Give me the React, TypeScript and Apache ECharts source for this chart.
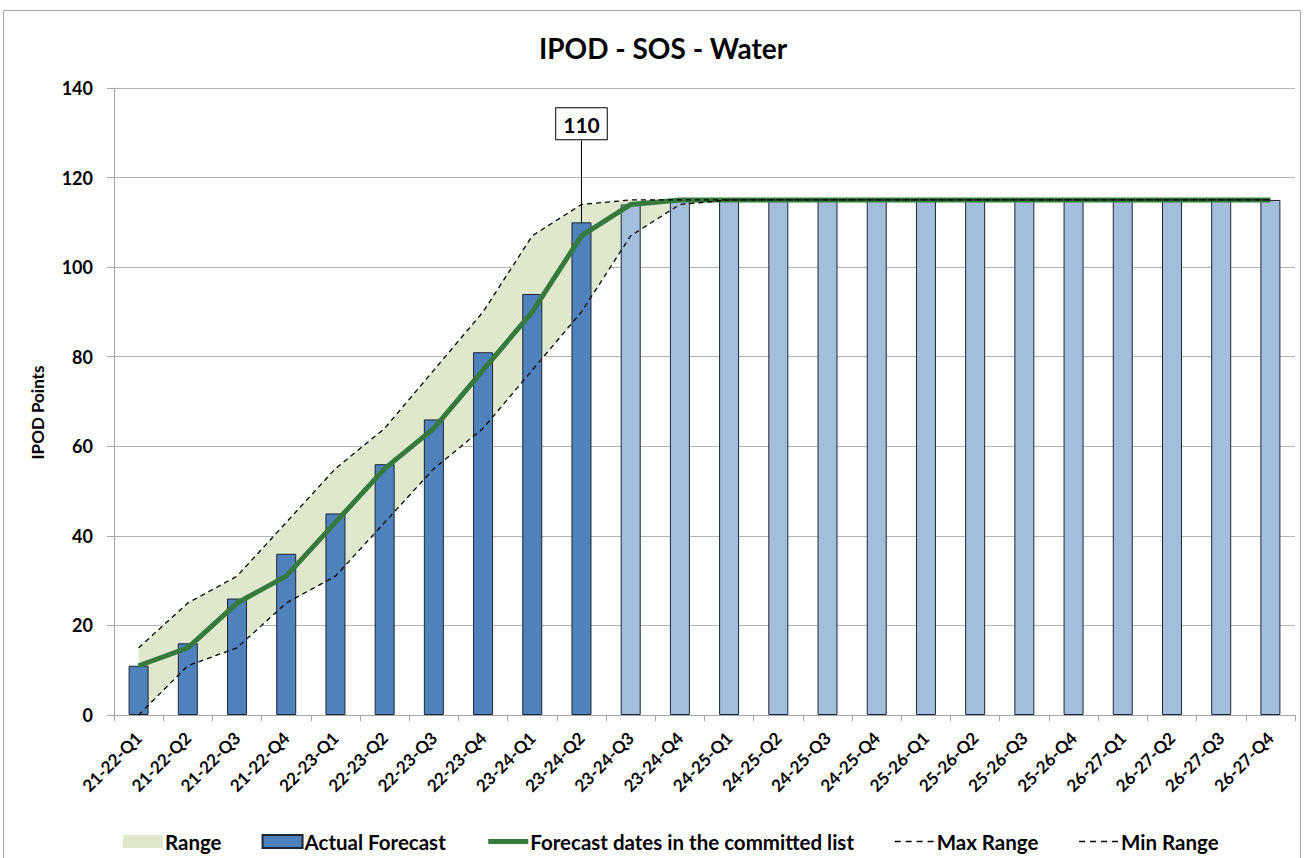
import React, { useEffect, useRef } from "react";
import * as echarts from "echarts";

const categories = [
  "21-22-Q1", "21-22-Q2", "21-22-Q3", "21-22-Q4",
  "22-23-Q1", "22-23-Q2", "22-23-Q3", "22-23-Q4",
  "23-24-Q1", "23-24-Q2", "23-24-Q3", "23-24-Q4",
  "24-25-Q1", "24-25-Q2", "24-25-Q3", "24-25-Q4",
  "25-26-Q1", "25-26-Q2", "25-26-Q3", "25-26-Q4",
  "26-27-Q1", "26-27-Q2", "26-27-Q3", "26-27-Q4",
];

const actualValues = [11, 16, 26, 36, 45, 56, 66, 81, 94, 110];
const plannedValues = [114, 115, 115, 115, 115, 115, 115, 115, 115, 115, 115, 115, 115, 115];
const forecastLine = [11, 15, 25, 31, 43, 55, 64, 77, 90, 107, 114, 115, 115, 115, 115, 115, 115, 115, 115, 115, 115, 115, 115, 115];
const rangeMax = [15, 25, 31, 43, 55, 64, 77, 90, 107, 114, 115, 115, 115, 115, 115, 115, 115, 115, 115, 115, 115, 115, 115, 115];
const rangeMin = [0, 11, 15, 25, 31, 43, 55, 64, 77, 90, 107, 114, 115, 115, 115, 115, 115, 115, 115, 115, 115, 115, 115, 115];
const yTicks = { min: 0, max: 140, interval: 20 };
const labelledIndex = 9;

const FONT = "Lato, 'Liberation Sans', Arial, sans-serif";

export default function App() {
  const ref = useRef<HTMLDivElement>(null);
  useEffect(() => {
    if (!ref.current) return;
    const chart = echarts.init(ref.current, null, { renderer: "svg" });
    const barData: any[] = [
      ...actualValues.map((v, i) =>
        i === labelledIndex
          ? {
              value: v,
              label: {
                show: true,
                position: "top",
                formatter: "{c}",
                color: "#000",
                fontFamily: FONT,
                fontWeight: "bold",
                fontSize: 21,
                backgroundColor: "#fff",
                borderColor: "#000",
                borderWidth: 1,
                padding: [6, 7, 4, 7],
              },
              labelLine: { show: true, lineStyle: { color: "#000", width: 1 } },
            }
          : { value: v }
      ),
      ...plannedValues.map((v) => ({
        value: v,
        itemStyle: { color: "#a3bddd" },
      })),
    ];
    const rangeDiff = rangeMax.map((v, i) => v - rangeMin[i]);
    const noSymbol = { opacity: 0 };
    const legendDash = { width: 1.3, type: [6, 5] };
    chart.setOption({
      animation: false,
      backgroundColor: "#fff",
      title: {
        text: "IPOD - SOS - Water",
        left: 658,
        top: 29,
        textAlign: "center",
        textStyle: { fontFamily: FONT, fontWeight: "bold", fontSize: 28, color: "#000" },
      },
      graphic: [
        {
          type: "rect",
          shape: { x: 3.5, y: 10.5, width: 1297, height: 860 },
          style: { fill: "none", stroke: "#a6a6a6", lineWidth: 1 },
          silent: true,
        },
      ],
      legend: {
        left: 118,
        top: 826,
        itemWidth: 40,
        itemHeight: 13,
        itemGap: 40,
        textStyle: { fontFamily: FONT, fontWeight: "bold", fontSize: 20.5, color: "#000", padding: [0, 0, 0, -3] },
        data: [
          { name: "Range", icon: "rect" },
          { name: "Actual Forecast", icon: "rect" },
          { name: "Forecast dates in the committed list", itemStyle: noSymbol, lineStyle: { width: 5 } },
          { name: "Max Range", itemStyle: noSymbol, lineStyle: legendDash },
          { name: "Min Range", itemStyle: noSymbol, lineStyle: legendDash },
        ],
      },
      grid: { left: 114, right: 9, top: 88, bottom: 143, containLabel: false },
      xAxis: {
        type: "category",
        data: categories,
        boundaryGap: true,
        axisLine: { lineStyle: { color: "#a6a6a6", width: 1 } },
        axisTick: { show: true, length: 6, lineStyle: { color: "#a6a6a6" } },
        axisLabel: {
          rotate: 45,
          interval: 0,
          fontFamily: FONT,
          fontWeight: "bold",
          fontSize: 17,
          color: "#000",
          margin: 20,
        },
      },
      yAxis: {
        type: "value",
        min: yTicks.min,
        max: yTicks.max,
        interval: yTicks.interval,
        name: "IPOD Points",
        nameLocation: "middle",
        nameGap: 68,
        nameTextStyle: { fontFamily: FONT, fontWeight: "bold", fontSize: 17, color: "#000", padding: [0, 22, 0, 0] },
        axisLine: { show: true, lineStyle: { color: "#a6a6a6" } },
        axisTick: { show: true, length: 7, lineStyle: { color: "#a6a6a6" } },
        axisLabel: { fontFamily: FONT, fontWeight: "bold", fontSize: 18, color: "#000", margin: 21 },
        splitLine: { lineStyle: { color: "#b3b3b3", width: 1 } },
      },
      series: [
        {
          name: "rangeBase",
          type: "line",
          stack: "range",
          data: rangeMin,
          symbol: "none",
          lineStyle: { opacity: 0 },
          silent: true,
          z: 1,
        },
        {
          name: "Range",
          type: "line",
          stack: "range",
          data: rangeDiff,
          symbol: "none",
          itemStyle: { color: "#dfe8cc" },
          lineStyle: { opacity: 0, width: 0 },
          areaStyle: { color: "#dfe8cc", opacity: 1 },
          z: 1,
        },
        {
          name: "Actual Forecast",
          type: "bar",
          data: barData,
          barWidth: 20,
          itemStyle: { color: "#4f81bd", borderColor: "#1c2533", borderWidth: 1 },
          labelLayout: { dy: -78 },
          z: 2,
        },
        {
          name: "Forecast dates in the committed list",
          type: "line",
          data: forecastLine,
          symbol: "none",
          itemStyle: { color: "#357a3c" },
          lineStyle: { color: "#357a3c", width: 5 },
          z: 3,
        },
        {
          name: "Max Range",
          type: "line",
          data: rangeMax,
          symbol: "none",
          itemStyle: { color: "#000" },
          lineStyle: { color: "#000", width: 1.3, type: [5, 4] },
          z: 4,
        },
        {
          name: "Min Range",
          type: "line",
          data: rangeMin,
          symbol: "none",
          itemStyle: { color: "#000" },
          lineStyle: { color: "#000", width: 1.3, type: [5, 4] },
          z: 4,
        },
      ],
    });
    return () => chart.dispose();
  }, []);
  return (
    <div
      ref={ref}
      style={{ position: "absolute", left: 0, top: 0, width: 1304, height: 858 }}
    />
  );
}
